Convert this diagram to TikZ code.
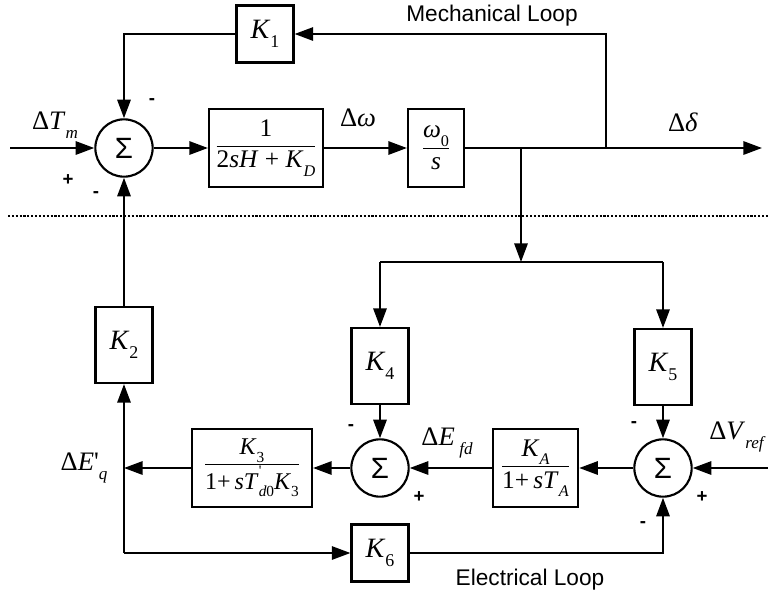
\documentclass[tikz,border=0pt]{standalone}
\usepackage{fontspec}
\usepackage{graphicx}
\setmainfont{Liberation Serif}[Ligatures=TeXOff]
\newfontfamily\sansf{Liberation Sans}
\usetikzlibrary{arrows.meta}
\newcommand\lo[1]{\raisebox{-0.32em}{\scalebox{0.64}{#1}}}
\newcommand\hi[1]{\raisebox{0.55em}{\scalebox{0.6}{#1}}}
\newcommand\fr[2]{$\displaystyle\frac{\hbox{#1}}{\hbox{#2}}$}
\tikzset{
  ln/.style={line width=1.6pt},
  arr/.style={line width=1.6pt, -{Triangle[length=14pt,width=10pt]}},
  blk/.style={draw, line width=1.6pt, inner sep=0pt, font=\fontsize{19}{22}\selectfont},
  kbox/.style={blk, minimum width=42.75pt, minimum height=57pt, font=\fontsize{21}{24}\selectfont},
  ksq/.style={kbox, minimum height=42.75pt},
  sum/.style={draw, circle, line width=1.6pt, inner sep=0pt, minimum size=43pt, font=\sansf\fontsize{22}{24}\selectfont},
  sgn/.style={inner sep=0pt, font=\sansf\bfseries\fontsize{14}{16}\selectfont},
  lbl/.style={inner sep=0pt, font=\fontsize{20}{24}\selectfont},
  loop/.style={inner sep=0pt, font=\sansf\fontsize{17}{20}\selectfont},
}
\begin{document}
\begin{tikzpicture}[x=0.75pt,y=-0.75pt]
\useasboundingbox (0,0) rectangle (768,601);
% top row
\node[sum] (s1) at (124,148) {Σ};
\node[blk, minimum width=85.5pt, minimum height=58.5pt] (g1) at (266,148)
  {\fr{1}{2\textit{sH} + \textit{K}\lo{\textit{D}}}};
\node[blk, minimum width=42pt, minimum height=58.5pt] (g2) at (436,148)
  {\fr{\textit{ω}\lo{0}}{\textit{s}}};
\node[ksq] (k1) at (265,34) {\textit{K}\lo{1}};
% middle
\node[kbox] (k2) at (124,345) {\textit{K}\lo{2}};
\node[kbox] (k4) at (380,366) {\textit{K}\lo{4}};
\node[kbox] (k5) at (663,367) {\textit{K}\lo{5}};
% bottom row
\node[sum] (s2) at (380,468) {Σ};
\node[sum] (s3) at (663,468) {Σ};
\node[blk, minimum width=90pt, minimum height=59pt, font=\fontsize{18}{21}\selectfont] (g3) at (252,468)
  {\fr{\textit{K}\lo{3}}{1+\,\textit{sT}\rlap{\hi{'}}\lo{\textit{d}0}\textit{K}\lo{3}}};
\node[blk, minimum width=64pt, minimum height=59pt] (ga) at (535.5,468)
  {\fr{\textit{K}\lo{\textit{A}}}{1+\,\textit{sT}\lo{\textit{A}}}};
\node[ksq] (k6) at (380,553) {\textit{K}\lo{6}};
% coordinates
\coordinate (in) at (10,148);
\coordinate (out) at (762,148);
\coordinate (j1) at (606,148);
\coordinate (j2) at (521,148);
\coordinate (j3) at (521,262);
\coordinate (d4) at (380,262);
\coordinate (d5) at (663,262);
\coordinate (vin) at (768,468);
\coordinate (eq) at (124,468);
\coordinate (c) at (124,553);
\coordinate (dl1) at (8,216);
\coordinate (dl2) at (768,216);
% connectors
\draw[arr] (in) -- (s1);
\draw[arr] (s1) -- (g1);
\draw[arr] (g1) -- (g2);
\draw[arr] (g2) -- (out);
\draw[arr] (j1) |- (k1);
\draw[arr] (k1) -| (s1);
\draw[arr] (j2) -- (j3);
\draw[ln] (d4) -- (d5);
\draw[arr] (d4) -- (k4);
\draw[arr] (d5) -- (k5);
\draw[arr] (k4) -- (s2);
\draw[arr] (k5) -- (s3);
\draw[arr] (vin) -- (s3);
\draw[arr] (s3) -- (ga);
\draw[arr] (ga) -- (s2);
\draw[arr] (s2) -- (g3);
\draw[arr] (g3) -- (eq);
\draw[arr] (c) -- (k2);
\draw[arr] (c) -- (k6);
\draw[arr] (k6) -| (s3);
\draw[arr] (k2) -- (s1);
\draw[line width=1.6pt, dash pattern=on 1.6pt off 1.3pt] (dl1) -- (dl2);
% labels
\node[lbl] (tm) at (55,125) {Δ\textit{T}\lo{\textit{m}}};
\node[lbl] (dw) at (358,118) {Δ\textit{ω}};
\node[lbl] (dd) at (683,122) {Δ\textit{δ}};
\node[lbl] (eqt) at (84,468) {Δ\textit{E}'\lo{\textit{q}}};
\node[lbl] (efd) at (447,443) {Δ\textit{E}\,\lo{\textit{fd}}};
\node[lbl, anchor=west] (vr) at (709,437) {Δ\textit{V}\lo{\textit{ref}}};
\node[loop] (ml) at (492,16) {Mechanical Loop};
\node[loop] (el) at (530,580) {Electrical Loop};
% signs
\node[sgn] (p1) at (68,180) {+};
\node[sgn] (m1) at (152,102) {-};
\node[sgn] (m2) at (96,195) {-};
\node[sgn] (m3) at (351,428) {-};
\node[sgn] (p2) at (419,497) {+};
\node[sgn] (m4) at (634,425) {-};
\node[sgn] (p3) at (702,497) {+};
\node[sgn] (m5) at (643,525) {-};
\end{tikzpicture}
\end{document}
